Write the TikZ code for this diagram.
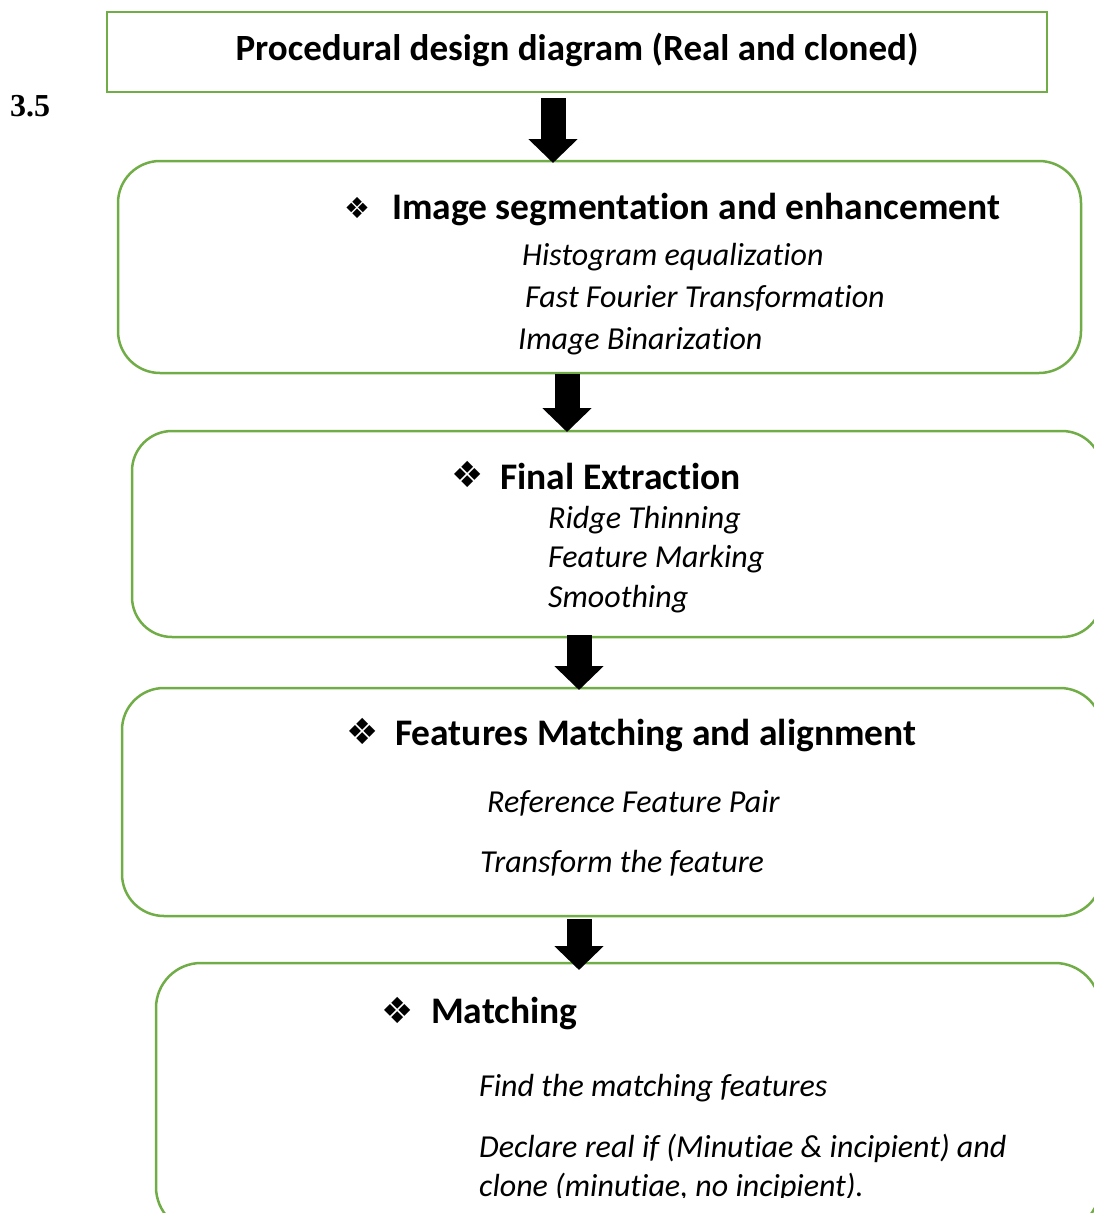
\documentclass[tikz,border=0pt]{standalone}
\usepackage{fontspec}
\setmainfont{Carlito}[Ligatures=NoCommon]
\newfontfamily\symfont{DejaVu Sans}
\newfontfamily\serifnum{Liberation Serif}
\usetikzlibrary{arrows.meta}
\definecolor{boxgreen}{HTML}{70AD47}
\tikzset{
  box/.style={draw=boxgreen, line width=2.5pt, inner sep=0pt},
  bigarrow/.style={line width=25pt, -{Triangle[width=48pt,length=24pt]}},
  headtxt/.style={anchor=base west, inner sep=0pt, font=\fontsize{37.5}{44}\selectfont\bfseries},
  itxt/.style={anchor=base west, inner sep=0pt, font=\fontsize{32}{38}\selectfont\itshape},
  bul/.style={anchor=center, inner sep=0pt, font=\fontsize{36}{40}\selectfont\symfont},
  bulsmall/.style={bul, font=\fontsize{29}{34}\selectfont\symfont},
}
\begin{document}
\begin{tikzpicture}[x=1pt,y=-1pt]
\useasboundingbox (0,0) rectangle (1094,1213);
% boxes
\draw[box] (107,12) rectangle (1047,92);
\coordinate (topS) at (577,92);
\node[anchor=base, inner sep=0pt, font=\fontsize{37}{44}\selectfont\bfseries] (title) at (577,60) {Procedural design diagram (Real and cloned)};
\node[anchor=base west, inner sep=0pt, font=\fontsize{32}{36}\selectfont\serifnum\bfseries] (num) at (10,116) {3.5};

\draw[box, rounded corners=42pt] (118,161) rectangle (1081,373);
\coordinate (b1N) at (599,161); \coordinate (b1S) at (599,373);
\draw[box, rounded corners=40pt] (132,431) rectangle (1102,637);
\coordinate (b2N) at (617,431); \coordinate (b2S) at (617,637);
\draw[box, rounded corners=42pt] (122,688) rectangle (1102,916);
\coordinate (b3N) at (612,688); \coordinate (b3S) at (612,916);
\draw[box, rounded corners=45pt] (156,963) rectangle (1100,1232);
\coordinate (b4N) at (628,963);

% text box 1
\node[bulsmall] (u1) at (357.5,207.5) {❖};
\node[headtxt] (h1) at (392,219) {Image segmentation and enhancement};
\node[itxt] (l11) at (522,265) {Histogram equalization};
\node[itxt] (l12) at (525,307) {Fast Fourier Transformation};
\node[itxt] (l13) at (518,349) {Image Binarization};
% text box 2
\node[bul] (u2) at (468,474.5) {❖};
\node[headtxt] (h2) at (500,489) {Final Extraction};
\node[itxt] (l21) at (548,528) {Ridge Thinning};
\node[itxt] (l22) at (548,567) {Feature Marking};
\node[itxt] (l23) at (548,607) {Smoothing};
% text box 3
\node[bul] (u3) at (362.5,731) {❖};
\node[headtxt] (h3) at (395,745) {Features Matching and alignment};
\node[itxt] (l31) at (487,812) {Reference Feature Pair};
\node[itxt] (l32) at (480,872) {Transform the feature};
% text box 4
\node[bul] (u4) at (398,1010) {❖};
\node[headtxt] (h4) at (431,1023) {Matching};
\node[itxt] (l41) at (479,1096) {Find the matching features};
\node[itxt] (l42) at (479,1157) {Declare real if (Minutiae \& incipient) and};
\begin{scope}
\clip (0,0) rectangle (1094,1197);
\node[itxt] (l43) at (479,1196) {clone (minutiae, no incipient).};
\end{scope}

% arrows
\coordinate (a1) at (553,0);
\coordinate (a2) at (567,0);
\coordinate (a3) at (579,0);
\coordinate (a4) at (579,0);
\draw[bigarrow, shorten <=6pt, shorten >=-2pt] (topS -| a1) -- (b1N -| a1);
\draw[bigarrow, shorten <=1pt, shorten >=-1pt] (b1S -| a2) -- (b2N -| a2);
\draw[bigarrow, shorten <=-2pt, shorten >=-2pt] (b2S -| a3) -- (b3N -| a3);
\draw[bigarrow, shorten <=3pt, shorten >=-7pt] (b3S -| a4) -- (b4N -| a4);
\end{tikzpicture}
\end{document}
